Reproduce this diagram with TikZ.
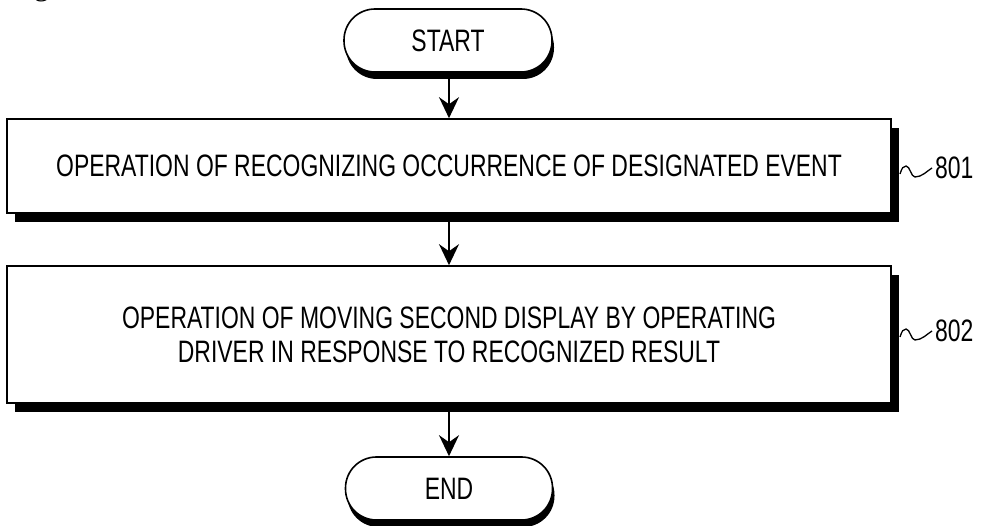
\documentclass[tikz,border=0pt]{standalone}
\usepackage{fontspec}
\setmainfont{Liberation Sans}[FakeStretch=0.74]
\newfontfamily\figfont{Liberation Serif}
\usetikzlibrary{arrows.meta,shadows}
\begin{document}
\begin{tikzpicture}[x=1pt,y=-1pt,
  txt/.style={font=\fontsize{31}{34}\selectfont},
  opbox/.style={txt,draw,line width=1.6pt,fill=white,align=center,minimum width=884pt,
    drop shadow={shadow xshift=8pt,shadow yshift=-9pt,fill=black,opacity=1}},
  term/.style={txt,draw,line width=1.6pt,fill=white,rounded corners=31pt,minimum width=208pt,minimum height=63pt,
    drop shadow={shadow xshift=2pt,shadow yshift=-7pt,fill=black,opacity=1}},
  arr/.style={line width=1.8pt,-{Stealth[length=21pt,width=20pt,inset=7pt]}},
  wig/.style={line width=1.3pt},
  reflbl/.style={txt,anchor=west,inner sep=3pt}]
\useasboundingbox (0,0) rectangle (989,526);
\node[anchor=base west,inner sep=0pt,font=\figfont\fontsize{30}{30}\selectfont] (fig) at (-1,-4) {[Fig. 8]};
\node[term] (start) at (448,40.5) {START};
\node[opbox,minimum height=94pt] (b1) at (449,166) {OPERATION OF RECOGNIZING OCCURRENCE OF DESIGNATED EVENT};
\node[opbox,minimum height=137pt] (b2) at (449,334.5) {OPERATION OF MOVING SECOND DISPLAY BY OPERATING\\DRIVER IN RESPONSE TO RECOGNIZED RESULT};
\node[term,minimum width=207pt] (end) at (449,488.5) {END};
\draw[arr] (start.south -| b1.north) -- (b1.north);
\draw[arr] (b1.south) -- (b2.north);
\draw[arr] (b2.south) -- (end.north);
\node[reflbl] (l1) at (932,168) {801};
\node[reflbl] (l2) at (932,331) {802};
\coordinate (w1) at (900,174);
\coordinate (w2) at (900,337);
\draw[wig] (w1) .. controls +(2,-6) and +(-3,0) .. ++(6,-8) .. controls +(4,0) and +(-4,0) .. ++(9,11) .. controls +(7,0) and +(-5,3) .. (l1.west);
\draw[wig] (w2) .. controls +(2,-6) and +(-3,0) .. ++(6,-8) .. controls +(4,0) and +(-4,0) .. ++(9,11) .. controls +(7,0) and +(-5,3) .. (l2.west);
\end{tikzpicture}
\end{document}
